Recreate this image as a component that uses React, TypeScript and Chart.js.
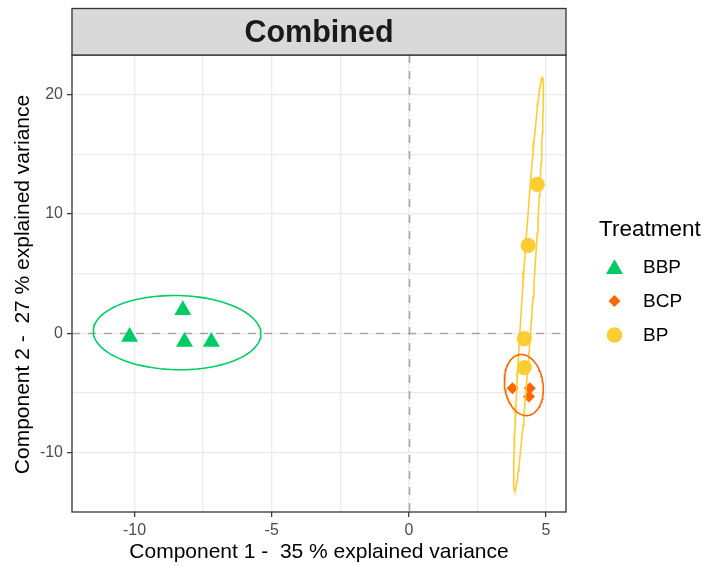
import React, { useEffect, useRef } from 'react';
import { Chart, registerables } from 'chart.js';

Chart.register(...registerables);

// ---- data ----
const groupNames = ['BBP', 'BCP', 'BP'];
const groupColors = ['#00CC66', '#FF6600', '#FFCC33'];
const bbpX = [-10.18, -8.24, -8.18, -7.2];
const bbpY = [-0.29, 1.94, -0.71, -0.71];
const bcpX = [3.78, 4.41, 4.38, 4.2];
const bcpY = [-4.6, -4.6, -5.3, -2.85];
const bpX = [4.68, 4.35, 4.21, 4.21];
const bpY = [12.47, 7.36, -0.44, -2.87];

const xGridTicks = [-10, -7.5, -5, -2.5, 0, 2.5, 5];
const yGridTicks = [-10, -5, 0, 5, 10, 15, 20];
const xLabelTicks = [-10, -5, 0, 5];
const yLabelTicks = [-10, 0, 10, 20];
const xRange = [-12.28, 5.73];
const yRange = [-14.97, 23.31];

const stripTitle = 'Combined';
const xTitle = 'Component 1 -  35 % explained variance';
const yTitle = 'Component 2 -  27 % explained variance';
const legendTitle = 'Treatment';
const ellipseLevel = 0.95;

const FONT = '"Liberation Sans", Arial, Helvetica, sans-serif';

// confidence ellipse from the group's covariance (as mixOmics / ellipse package)
function confEllipse(xs: number[], ys: number[], level: number, n = 100) {
  const k = xs.length;
  const mx = xs.reduce((a, b) => a + b, 0) / k;
  const my = ys.reduce((a, b) => a + b, 0) / k;
  let vx = 0, vy = 0, cxy = 0;
  for (let i = 0; i < k; i++) {
    vx += (xs[i] - mx) ** 2;
    vy += (ys[i] - my) ** 2;
    cxy += (xs[i] - mx) * (ys[i] - my);
  }
  vx /= k - 1; vy /= k - 1; cxy /= k - 1;
  const sx = Math.sqrt(vx), sy = Math.sqrt(vy);
  const t = Math.sqrt(-2 * Math.log(1 - level));
  const d = Math.acos(Math.max(-1, Math.min(1, cxy / (sx * sy))));
  const pts: { x: number; y: number }[] = [];
  for (let i = 0; i <= n; i++) {
    const a = (2 * Math.PI * i) / n;
    pts.push({ x: t * sx * Math.cos(a + d / 2) + mx, y: t * sy * Math.cos(a - d / 2) + my });
  }
  return pts;
}

const toPts = (xs: number[], ys: number[]) => xs.map((x, i) => ({ x, y: ys[i] }));

const decorPlugin = {
  id: 'decor',
  beforeDatasetsDraw(chart: any) {
    const { ctx, chartArea: ca, scales } = chart;
    const x0 = Math.round(scales.x.getPixelForValue(0)) + 0.5;
    const y0 = Math.round(scales.y.getPixelForValue(0)) + 0.5;
    ctx.save();
    ctx.beginPath();
    ctx.rect(ca.left, ca.top, ca.right - ca.left, ca.bottom - ca.top);
    ctx.clip();
    ctx.strokeStyle = '#A6A6A6';
    ctx.lineWidth = 1.6;
    ctx.setLineDash([8, 8]);
    ctx.beginPath();
    ctx.moveTo(x0, ca.top);
    ctx.lineTo(x0, ca.bottom);
    ctx.moveTo(ca.left, y0);
    ctx.lineTo(ca.right, y0);
    ctx.stroke();
    ctx.restore();
  },
  afterDraw(chart: any) {
    const { ctx, chartArea: ca } = chart;
    ctx.save();
    // panel border
    ctx.strokeStyle = '#333333';
    ctx.lineWidth = 1.3;
    ctx.strokeRect(ca.left, ca.top, ca.right - ca.left, ca.bottom - ca.top);
    // strip
    const sTop = 8.5;
    ctx.fillStyle = '#D9D9D9';
    ctx.fillRect(ca.left, sTop, ca.right - ca.left, ca.top - sTop);
    ctx.strokeRect(ca.left, sTop, ca.right - ca.left, ca.top - sTop);
    ctx.fillStyle = '#1A1A1A';
    ctx.font = `bold 30.5px ${FONT}`;
    ctx.textAlign = 'center';
    ctx.textBaseline = 'alphabetic';
    ctx.fillText(stripTitle, (ca.left + ca.right) / 2, 42);
    // axis titles
    ctx.fillStyle = '#000000';
    ctx.font = `21px ${FONT}`;
    ctx.fillText(xTitle, (ca.left + ca.right) / 2, 558);
    ctx.save();
    ctx.translate(29, (ca.top + ca.bottom) / 2 + 1);
    ctx.rotate(-Math.PI / 2);
    ctx.fillText(yTitle, 0, 0);
    ctx.restore();
    // legend
    ctx.textAlign = 'left';
    ctx.font = `22.5px ${FONT}`;
    ctx.fillText(legendTitle, 599, 236);
    ctx.font = `19px ${FONT}`;
    const rows = [267, 301, 335];
    const sx = 614.5;
    groupNames.forEach((name, i) => {
      const cy = rows[i];
      ctx.fillStyle = groupColors[i];
      ctx.beginPath();
      if (i === 0) {
        const r = 9.8;
        const c = cy + 2;
        ctx.moveTo(sx, c - r);
        ctx.lineTo(sx + 0.866 * r, c + r / 2);
        ctx.lineTo(sx - 0.866 * r, c + r / 2);
        ctx.closePath();
      } else if (i === 1) {
        const r = 6;
        ctx.moveTo(sx, cy - r);
        ctx.lineTo(sx + r, cy);
        ctx.lineTo(sx, cy + r);
        ctx.lineTo(sx - r, cy);
        ctx.closePath();
      } else {
        ctx.arc(sx, cy, 7.8, 0, Math.PI * 2);
      }
      ctx.fill();
      ctx.fillStyle = '#000000';
      ctx.textBaseline = 'middle';
      ctx.fillText(name, 643, cy + 1);
    });
    ctx.restore();
  },
};

export default function App() {
  const ref = useRef<HTMLCanvasElement>(null);
  useEffect(() => {
    if (!ref.current) return;
    const ellStyle = (i: number) => ({
      showLine: true,
      fill: false,
      pointRadius: 0,
      borderColor: groupColors[i],
      borderWidth: 1.6,
      tension: 0,
      order: 0,
    });
    const chart = new Chart(ref.current, {
      type: 'scatter',
      data: {
        datasets: [
          { label: 'ellBBP', data: confEllipse(bbpX, bbpY, ellipseLevel), ...ellStyle(0) },
          { label: 'ellBCP', data: confEllipse(bcpX, bcpY, ellipseLevel), ...ellStyle(1) },
          { label: 'ellBP', data: confEllipse(bpX, bpY, ellipseLevel), ...ellStyle(2) },
          {
            label: groupNames[2], data: toPts(bpX, bpY), pointStyle: 'circle', pointRadius: 7.6,
            backgroundColor: groupColors[2], borderWidth: 0, order: 1,
          },
          {
            label: groupNames[1], data: toPts(bcpX, bcpY), pointStyle: 'rectRot', pointRadius: 6,
            backgroundColor: groupColors[1], borderWidth: 0, order: 2,
          },
          {
            label: groupNames[0], data: toPts(bbpX, bbpY), pointStyle: 'triangle', pointRadius: 9.8,
            backgroundColor: groupColors[0], borderWidth: 0, order: 3,
          },
        ] as any,
      },
      options: {
        responsive: false,
        animation: false,
        events: [],
        layout: { padding: { top: 55, right: 141, bottom: 0, left: 0 } },
        plugins: { legend: { display: false }, tooltip: { enabled: false } },
        scales: {
          x: {
            type: 'linear',
            min: xRange[0],
            max: xRange[1],
            afterBuildTicks: (s: any) => { s.ticks = xGridTicks.map((v) => ({ value: v })); },
            afterFit: (s: any) => { s.height = 55; },
            border: { display: false },
            grid: {
              color: '#EBEBEB',
              lineWidth: 1.3,
              tickLength: 5,
              tickWidth: 1.2,
              tickColor: (c: any) => (c.tick && xLabelTicks.includes(c.tick.value) ? '#333333' : 'rgba(0,0,0,0)'),
            },
            ticks: {
              autoSkip: false,
              maxRotation: 0,
              padding: 4,
              color: '#4D4D4D',
              font: { size: 16, family: FONT },
              callback: (v: any) => (xLabelTicks.includes(Number(v)) ? String(v) : ''),
            },
          },
          y: {
            type: 'linear',
            min: yRange[0],
            max: yRange[1],
            afterBuildTicks: (s: any) => { s.ticks = yGridTicks.map((v) => ({ value: v })); },
            afterFit: (s: any) => { s.width = 72; },
            border: { display: false },
            grid: {
              color: '#EBEBEB',
              lineWidth: 1.3,
              tickLength: 5,
              tickWidth: 1.2,
              tickColor: (c: any) => (c.tick && yLabelTicks.includes(c.tick.value) ? '#333333' : 'rgba(0,0,0,0)'),
            },
            ticks: {
              autoSkip: false,
              padding: 4,
              color: '#4D4D4D',
              font: { size: 16, family: FONT },
              callback: (v: any) => (yLabelTicks.includes(Number(v)) ? String(v) : ''),
            },
          },
        },
      } as any,
      plugins: [decorPlugin],
    });
    return () => chart.destroy();
  }, []);
  return (
    <div style={{ position: 'fixed', left: 0, top: 0, width: 707, height: 567, background: '#FFFFFF' }}>
      <canvas ref={ref} width={707} height={567} style={{ display: 'block' }} />
    </div>
  );
}
